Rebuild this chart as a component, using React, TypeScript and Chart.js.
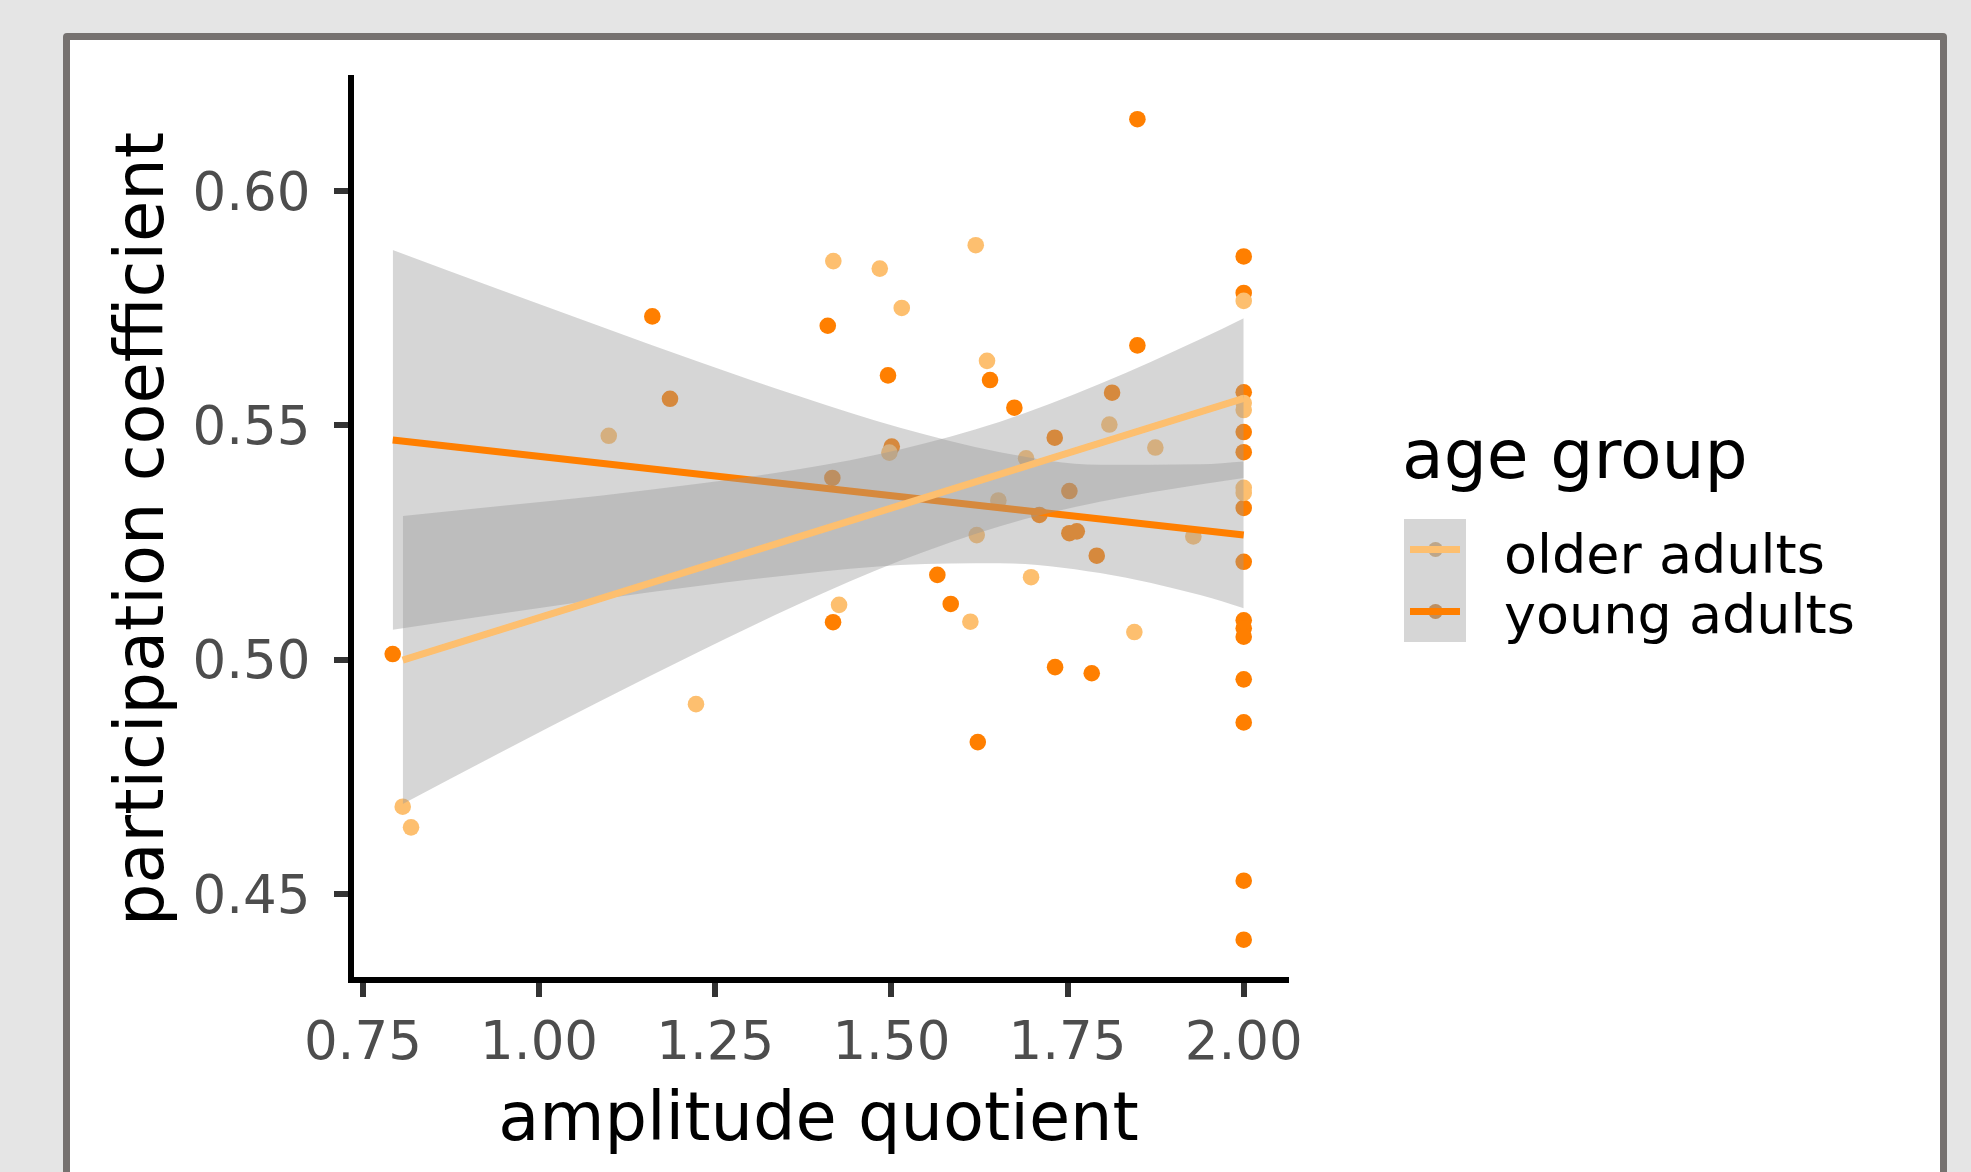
import React, { useEffect, useRef } from 'react';
import { Chart, registerables } from 'chart.js';

Chart.register(...registerables);

const FONT = "'DejaVu Sans', sans-serif";
const COLOR_OLDER = '#FDBF6F';
const COLOR_YOUNG = '#FF7F00';
const RIBBON_FILL = 'rgba(153,153,153,0.4)';

const groupLabels = ['older adults', 'young adults'];
const xTicks = [0.75, 1.0, 1.25, 1.5, 1.75, 2.0];
const yTicks = [0.45, 0.5, 0.55, 0.6];
const X_MIN = 0.7331;
const X_MAX = 2.06;
const Y_MIN = 0.4316;
const Y_MAX = 0.6242;

// older adults points
const olderX = [0.8065, 0.8183, 1.0989, 1.2227, 1.4176, 1.4257, 1.4835, 1.5147, 1.6197, 1.6357, 1.4971, 1.6121, 1.6211, 1.6518, 1.6911, 1.6982, 1.8093, 1.8448, 1.8746, 1.9285, 2.0, 2.0, 2.0, 2.0, 2.0];
const olderY = [0.4686, 0.4642, 0.5478, 0.4905, 0.5851, 0.5117, 0.5835, 0.5751, 0.5885, 0.5638, 0.5442, 0.5081, 0.5266, 0.534, 0.543, 0.5176, 0.5502, 0.5059, 0.5453, 0.5263, 0.5766, 0.5548, 0.5533, 0.5367, 0.5356];

// young adults points
const youngX = [0.7923, 1.1607, 1.1858, 1.4097, 1.4162, 1.4172, 1.4952, 1.5005, 1.64, 1.6745, 1.5652, 1.5842, 1.6226, 1.71, 1.7318, 1.7323, 1.7526, 1.7631, 1.7526, 1.7914, 1.7843, 1.8132, 1.8491, 1.8491, 2.0, 2.0, 2.0, 2.0, 2.0, 2.0, 2.0, 2.0, 2.0, 2.0, 2.0, 2.0, 2.0, 2.0];
const youngY = [0.5012, 0.5733, 0.5557, 0.5713, 0.5388, 0.508, 0.5607, 0.5455, 0.5597, 0.5538, 0.5181, 0.5119, 0.4824, 0.5309, 0.5474, 0.4984, 0.527, 0.5274, 0.536, 0.5222, 0.4971, 0.557, 0.6154, 0.5671, 0.5861, 0.5783, 0.5571, 0.5486, 0.5443, 0.5324, 0.5209, 0.5084, 0.5067, 0.5049, 0.4958, 0.4866, 0.4528, 0.4402];

// fitted lines
const olderFitX = [0.8065, 2.0];
const olderFitY = [0.4999, 0.5558];
const youngFitX = [0.7923, 2.0];
const youngFitY = [0.5469, 0.5266];

// confidence bands
const olderBandX = [0.8065, 0.9446, 1.0865, 1.2284, 1.3704, 1.5123, 1.6542, 1.7961, 1.9381, 2.0];
const olderBandUpper = [0.5307, 0.5328, 0.535, 0.5376, 0.5407, 0.5449, 0.5508, 0.5589, 0.5684, 0.5729];
const olderBandLower = [0.4692, 0.4801, 0.4911, 0.5018, 0.512, 0.5211, 0.5285, 0.5337, 0.5374, 0.5388];
const youngBandX = [0.7923, 0.9446, 1.0865, 1.2284, 1.3704, 1.5123, 1.6542, 1.7961, 1.9381, 2.0];
const youngBandUpper = [0.5875, 0.579, 0.5712, 0.5635, 0.5562, 0.5495, 0.5443, 0.5416, 0.5417, 0.5423];
const youngBandLower = [0.5064, 0.5098, 0.5129, 0.5158, 0.5183, 0.5202, 0.5206, 0.5185, 0.5138, 0.511];

const zip = (xs: number[], ys: number[]) => xs.map((x, i) => ({ x, y: ys[i] }));

function lineDs(xs: number[], ys: number[], color: string, order: number) {
  return {
    type: 'line' as const,
    data: zip(xs, ys),
    borderColor: color,
    borderWidth: 7,
    pointRadius: 0,
    pointHoverRadius: 0,
    fill: false,
    tension: 0,
    order,
  };
}

function bandDs(xs: number[], ys: number[], order: number, fill: any) {
  return {
    type: 'line' as const,
    data: zip(xs, ys),
    borderColor: 'rgba(0,0,0,0)',
    borderWidth: 0,
    backgroundColor: RIBBON_FILL,
    pointRadius: 0,
    pointHoverRadius: 0,
    fill,
    cubicInterpolationMode: 'monotone' as const,
    order,
  };
}

function pointDs(xs: number[], ys: number[], color: string, order: number) {
  return {
    type: 'line' as const,
    data: zip(xs, ys),
    showLine: false,
    borderColor: color,
    backgroundColor: color,
    pointBackgroundColor: color,
    pointBorderColor: 'rgba(0,0,0,0)',
    pointBorderWidth: 0,
    pointRadius: 8.3,
    pointHoverRadius: 8.3,
    fill: false,
    order,
  };
}

function ChartCanvas() {
  const ref = useRef<HTMLCanvasElement | null>(null);
  useEffect(() => {
    if (!ref.current) return;
    Chart.defaults.font.family = FONT;
    const axisCommon = {
      grid: {
        display: true,
        drawOnChartArea: false,
        drawTicks: true,
        tickLength: 17,
        tickWidth: 6,
        tickColor: '#333333',
        lineWidth: 6,
        color: '#333333',
      },
      border: { display: true, color: '#000000', width: 6 },
    };
    const chart = new Chart(ref.current, {
      type: 'line',
      data: {
        datasets: [
          lineDs(olderFitX, olderFitY, COLOR_OLDER, 0),
          bandDs(olderBandX, olderBandUpper, 1, '+1'),
          bandDs(olderBandX, olderBandLower, 1, false),
          lineDs(youngFitX, youngFitY, COLOR_YOUNG, 2),
          bandDs(youngBandX, youngBandUpper, 3, '+1'),
          bandDs(youngBandX, youngBandLower, 3, false),
          pointDs(olderX, olderY, COLOR_OLDER, 4),
          pointDs(youngX, youngY, COLOR_YOUNG, 5),
        ] as any,
      },
      options: {
        responsive: false,
        maintainAspectRatio: false,
        animation: false,
        devicePixelRatio: 1,
        events: [],
        layout: { padding: { left: 0, top: 78, right: 44, bottom: 0 } },
        plugins: {
          legend: { display: false },
          tooltip: { enabled: false },
          title: { display: false },
        },
        scales: {
          x: {
            type: 'linear',
            min: X_MIN,
            max: X_MAX,
            afterBuildTicks: (s: any) => {
              s.ticks = xTicks.map((v) => ({ value: v }));
            },
            afterFit: (s: any) => {
              s.height = 192;
            },
            ticks: {
              callback: (v: any) => Number(v).toFixed(2),
              font: { size: 53, family: FONT },
              color: '#4D4D4D',
              padding: 16,
              autoSkip: false,
              maxRotation: 0,
              minRotation: 0,
            },
            ...axisCommon,
            title: {
              display: true,
              text: 'amplitude quotient',
              font: { size: 67, family: FONT },
              color: '#000000',
              padding: { top: 0, bottom: 9 },
            },
          },
          y: {
            type: 'linear',
            min: Y_MIN,
            max: Y_MAX,
            afterBuildTicks: (s: any) => {
              s.ticks = yTicks.map((v) => ({ value: v }));
            },
            afterFit: (s: any) => {
              s.width = 351;
            },
            ticks: {
              callback: (v: any) => Number(v).toFixed(2),
              font: { size: 53, family: FONT },
              color: '#4D4D4D',
              padding: 23.5,
              labelOffset: 5,
              autoSkip: false,
            },
            ...axisCommon,
            title: {
              display: true,
              text: 'participation coefficient',
              font: { size: 67, family: FONT },
              color: '#000000',
              padding: { top: 105.6, bottom: 0 },
            },
          },
        },
      } as any,
    });
    return () => chart.destroy();
  }, []);
  return (
    <canvas
      ref={ref}
      width={1330}
      height={1172}
      style={{ position: 'absolute', left: 0, top: 0, width: 1330, height: 1172 }}
    />
  );
}

function LegendKey({ top, color, muted }: { top: number; color: string; muted: string }) {
  const center = top + 31;
  return (
    <>
      <div style={{ position: 'absolute', left: 1427.5, top: center - 7.5, width: 15, height: 15, borderRadius: '50%', background: muted }} />
      <div style={{ position: 'absolute', left: 1404, top, width: 62, height: 61.5, background: 'rgba(153,153,153,0.4)' }} />
      <div style={{ position: 'absolute', left: 1410, top: center - 3.5, width: 50, height: 7, background: color }} />
    </>
  );
}

export default function App() {
  return (
    <div
      style={{
        position: 'fixed',
        left: 0,
        top: 0,
        width: 1971,
        height: 1172,
        background: '#E5E5E5',
        overflow: 'hidden',
        fontFamily: FONT,
      }}
    >
      <div
        style={{
          position: 'absolute',
          left: 63,
          top: 33,
          width: 1884,
          height: 1200,
          background: '#FFFFFF',
          border: '7px solid #767270',
          borderRadius: 4,
          boxSizing: 'border-box',
        }}
      />
      <ChartCanvas />
      <div style={{ position: 'absolute', left: 1402, top: 420.8, fontSize: 68, lineHeight: '68px', color: '#000', whiteSpace: 'nowrap' }}>
        age group
      </div>
      <LegendKey top={518.5} color={COLOR_OLDER} muted="#D5B080" />
      <LegendKey top={580} color={COLOR_YOUNG} muted="#D6893D" />
      <div style={{ position: 'absolute', left: 1504, top: 527.6, fontSize: 54, lineHeight: '54px', color: '#000', whiteSpace: 'nowrap' }}>
        {groupLabels[0]}
      </div>
      <div style={{ position: 'absolute', left: 1504, top: 587.6, fontSize: 54, lineHeight: '54px', color: '#000', whiteSpace: 'nowrap' }}>
        {groupLabels[1]}
      </div>
    </div>
  );
}
